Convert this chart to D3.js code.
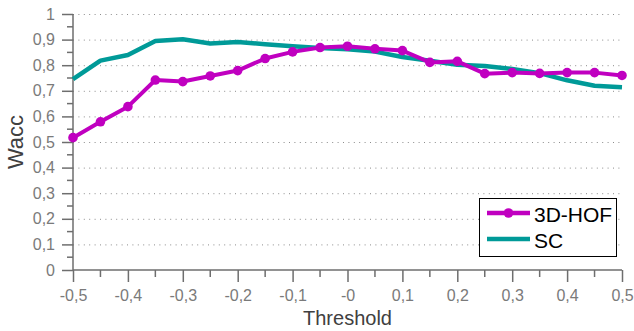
<!DOCTYPE html>
<html>
<head>
<meta charset="utf-8">
<script src="https://cdn.jsdelivr.net/npm/d3@7"></script>
<style>
  body { margin: 0; background: #fff; }
  svg { display: block; font-family: "Liberation Sans", Arial, sans-serif; }
</style>
</head>
<body>
<svg id="chart" width="634" height="331"></svg>
<script>
// thresholds, every 0.05 from -0.5 to 0.5
const thresholds = [-0.5, -0.45, -0.4, -0.35, -0.3, -0.25, -0.2, -0.15, -0.1, -0.05, 0,
  0.05, 0.1, 0.15, 0.2, 0.25, 0.3, 0.35, 0.4, 0.45, 0.5];
const hof3d = [0.517, 0.579, 0.638, 0.742, 0.736, 0.758, 0.779, 0.826, 0.852, 0.869, 0.874,
  0.864, 0.857, 0.811, 0.815, 0.767, 0.771, 0.768, 0.771, 0.771, 0.760];
const sc = [0.746, 0.818, 0.840, 0.895, 0.901, 0.885, 0.891, 0.882, 0.874, 0.867, 0.862,
  0.853, 0.832, 0.817, 0.802, 0.797, 0.785, 0.769, 0.741, 0.720, 0.714];
const xTicks = [-0.5, -0.4, -0.3, -0.2, -0.1, 0, 0.1, 0.2, 0.3, 0.4, 0.5];
const xTickLabels = ["-0,5", "-0,4", "-0,3", "-0,2", "-0,1", "-0", "0,1", "0,2", "0,3", "0,4", "0,5"];
const yTicks = [0, 0.1, 0.2, 0.3, 0.4, 0.5, 0.6, 0.7, 0.8, 0.9, 1];
const seriesNames = ["3D-HOF", "SC"];

const svg = d3.select("#chart");
const plotL = 73, plotR = 622, plotT = 14, plotB = 270;

const x = d3.scaleLinear().domain([-0.5, 0.5]).range([plotL, plotR]);
const y = d3.scaleLinear().domain([0, 1]).range([plotB, plotT]);

const fmt = d => d3.format(".1f")(d).replace(".", ",").replace(/,0$/, "");

// dotted grid
svg.append("g")
  .selectAll("line")
  .data(yTicks.filter(d => d > 0))
  .enter().append("line")
    .attr("x1", plotL).attr("x2", plotR)
    .attr("y1", d => y(d) + 0.5).attr("y2", d => y(d) + 0.5)
    .style("stroke", "#8c8c8c")
    .style("stroke-width", "1px")
    .style("stroke-dasharray", "1,4.4");

// y axis
const yAxis = d3.axisLeft(y)
  .tickValues(yTicks)
  .tickSize(11)
  .tickPadding(7)
  .tickFormat(fmt);
const gy = svg.append("g").attr("transform", `translate(${plotL},0)`).call(yAxis);

// minor ticks on y
svg.append("g")
  .selectAll("line")
  .data(d3.range(0.05, 1, 0.1))
  .enter().append("line")
    .attr("x1", plotL - 6).attr("x2", plotL)
    .attr("y1", d => y(d)).attr("y2", d => y(d))
    .style("stroke", "#6e6e6e")
    .style("stroke-width", "1.5px");

// x axis
const xAxis = d3.axisBottom(x)
  .tickValues(xTicks)
  .tickSize(12)
  .tickPadding(8)
  .tickFormat((d, i) => xTickLabels[i]);
const gx = svg.append("g").attr("transform", `translate(0,${plotB})`).call(xAxis);

svg.append("g")
  .selectAll("line")
  .data(d3.range(-0.45, 0.5, 0.1))
  .enter().append("line")
    .attr("x1", d => x(d)).attr("x2", d => x(d))
    .attr("y1", plotB).attr("y2", plotB + 7)
    .style("stroke", "#6e6e6e")
    .style("stroke-width", "1.5px");

[gx, gy].forEach(g => {
  g.select(".domain").remove();
  g.selectAll(".tick line").style("stroke", "#6e6e6e").style("stroke-width", "1.5px");
  g.selectAll(".tick text")
    .style("font-size", "16px")
    .style("fill", "#7a7a7a")
    .style("font-family", "Liberation Sans, Arial, sans-serif");
});

// axis lines
svg.append("line")
  .attr("x1", plotL).attr("x2", plotL).attr("y1", plotT).attr("y2", plotB)
  .style("stroke", "#6e6e6e").style("stroke-width", "1.5px");
svg.append("line")
  .attr("x1", plotL).attr("x2", plotR).attr("y1", plotB).attr("y2", plotB)
  .style("stroke", "#6e6e6e").style("stroke-width", "1.5px");

// series
const line = d3.line()
  .x((d, i) => x(thresholds[i]))
  .y(d => y(d));

svg.append("path")
  .datum(sc)
  .attr("d", line)
  .style("fill", "none")
  .style("stroke", "#009a98")
  .style("stroke-width", "4.5px")
  .style("stroke-linejoin", "round");

svg.append("path")
  .datum(hof3d)
  .attr("d", line)
  .style("fill", "none")
  .style("stroke", "#c000c0")
  .style("stroke-width", "4px")
  .style("stroke-linejoin", "round");

svg.append("g")
  .selectAll("circle")
  .data(hof3d)
  .enter().append("circle")
    .attr("cx", (d, i) => x(thresholds[i]))
    .attr("cy", d => y(d))
    .attr("r", 4.8)
    .attr("fill", "#c000c0");

// axis titles
svg.append("text")
  .attr("x", x(0))
  .attr("y", 325)
  .attr("text-anchor", "middle")
  .style("font-size", "20px")
  .style("fill", "#404040")
  .text("Threshold");

svg.append("text")
  .attr("transform", `translate(23,${y(0.5)}) rotate(-90)`)
  .attr("text-anchor", "middle")
  .style("font-size", "22px")
  .style("fill", "#404040")
  .text("Wacc");

// legend
const legend = svg.append("g");
legend.append("rect")
  .attr("x", 479.5).attr("y", 198.5)
  .attr("width", 137).attr("height", 58)
  .style("fill", "#fff")
  .style("stroke", "#000")
  .style("stroke-width", "1px");

const legColors = ["#c000c0", "#009a98"];
seriesNames.forEach((name, i) => {
  const ly = 213 + i * 26;
  legend.append("line")
    .attr("x1", 487).attr("x2", 530)
    .attr("y1", ly).attr("y2", ly)
    .style("stroke", legColors[i])
    .style("stroke-width", "4.5px");
  if (i === 0) {
    legend.append("circle")
      .attr("cx", 508.5).attr("cy", ly).attr("r", 4.8)
      .attr("fill", legColors[i]);
  }
  legend.append("text")
    .attr("x", 534).attr("y", ly + 8.5)
    .style("font-size", "21px")
    .style("fill", "#000")
    .text(name);
});
</script>
</body>
</html>
